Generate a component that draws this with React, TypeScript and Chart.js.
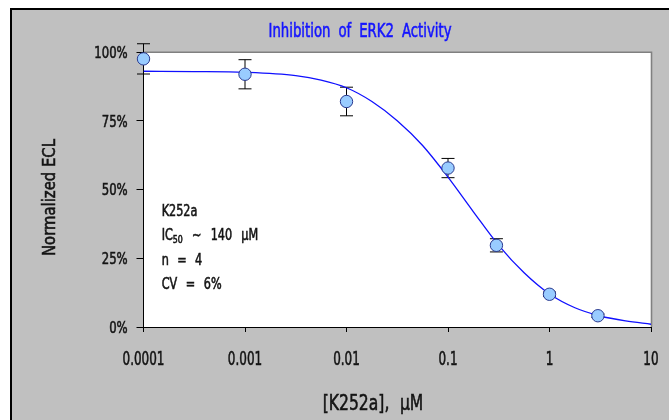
import React, { useEffect, useRef } from "react";
import { Chart, registerables } from "chart.js";

Chart.register(...registerables);

// ---- data ----
const concentrations = [0.0001, 0.001, 0.01, 0.1, 0.3, 1, 3];
const meanActivity = [0.975, 0.919, 0.82, 0.578, 0.297, 0.119, 0.041];
const errorAmount = [0.055, 0.053, 0.052, 0.035, 0.024, 0.008, 0.006];

const fitConcentrations = [0.0001, 0.000316, 0.001, 0.00316, 0.00562, 0.01, 0.0178, 0.0316, 0.0562, 0.1, 0.178, 0.316, 0.562, 1, 1.78, 3.16, 5.62, 10];
const fitActivity = [0.93, 0.929, 0.926, 0.914, 0.898, 0.87, 0.82, 0.75, 0.66, 0.545, 0.419, 0.297, 0.197, 0.12, 0.07, 0.04, 0.022, 0.01];

const xTickValues = [0.0001, 0.001, 0.01, 0.1, 1, 10];
const xTickLabels = ["0.0001", "0.001", "0.01", "0.1", "1", "10"];
const yTickValues = [0, 0.25, 0.5, 0.75, 1];
const yTickLabels = ["0%", "25%", "50%", "75%", "100%"];

const titleText = "Inhibition of ERK2 Activity";
const xAxisTitle = "[K252a], \u03bcM";
const yAxisTitle = "Normalized ECL";
const compoundName = "K252a";
const icLabel = "IC";
const icSubscript = "50";
const icValueText = "~ 140 \u03bcM";
const nText = "n = 4";
const cvText = "CV = 6%";

const FONT = "'DejaVu Sans Condensed', 'DejaVu Sans', sans-serif";
const TEXT = "#141414";
const BOLDEN = 0.55;

type Seg = { t: string; size: number; dy: number };

function segWidth(ctx: any, segs: Seg[]) {
  let w = 0;
  segs.forEach((s) => {
    ctx.font = `${s.size}px ${FONT}`;
    w += ctx.measureText(s.t).width;
  });
  return w;
}

function scaleFor(ctx: any, sample: string, size: number, width: number) {
  ctx.font = `${size}px ${FONT}`;
  return width / ctx.measureText(sample).width;
}

// draws tokens with a common horizontal squeeze; gaps fill the given total width
function drawTokens(ctx: any, tokens: Seg[][], x: number, y: number, sx: number, total: number | null, align: string, color: string) {
  const widths = tokens.map((tk) => segWidth(ctx, tk) * sx);
  const sum = widths.reduce((p, c) => p + c, 0);
  const full = total === null ? sum : total;
  const gap = tokens.length > 1 ? (full - sum) / (tokens.length - 1) : 0;
  let cx = align === "left" ? x : align === "center" ? x - full / 2 : x - full;
  ctx.save();
  ctx.fillStyle = color;
  ctx.strokeStyle = color;
  ctx.lineWidth = BOLDEN;
  ctx.textAlign = "left";
  ctx.textBaseline = "alphabetic";
  tokens.forEach((tk, i) => {
    let off = 0;
    tk.forEach((s) => {
      ctx.font = `${s.size}px ${FONT}`;
      ctx.save();
      ctx.translate(cx + off, y + s.dy);
      ctx.scale(sx, 1);
      ctx.fillText(s.t, 0, 0);
      ctx.strokeText(s.t, 0, 0);
      ctx.restore();
      off += ctx.measureText(s.t).width * sx;
    });
    cx += widths[i] + gap;
  });
  ctx.restore();
}

const words = (text: string, size: number): Seg[][] => text.split(" ").map((w) => [{ t: w, size, dy: 0 }]);
const whole = (text: string, size: number): Seg[][] => [[{ t: text, size, dy: 0 }]];

const decorPlugin = {
  id: "decor",
  beforeDraw(chart: any) {
    const { ctx, chartArea: a } = chart;
    ctx.save();
    ctx.fillStyle = "#ffffff";
    ctx.fillRect(a.left, a.top, a.right - a.left, a.bottom - a.top);
    ctx.strokeStyle = "#808080";
    ctx.lineWidth = 1.6;
    ctx.beginPath();
    ctx.moveTo(a.left, a.top + 0.25);
    ctx.lineTo(a.right + 0.5, a.top + 0.25);
    ctx.lineTo(a.right + 0.5, a.bottom);
    ctx.stroke();
    ctx.restore();
  },
  beforeDatasetsDraw(chart: any) {
    const { ctx } = chart;
    const xs = chart.scales.x;
    const ys = chart.scales.y;
    ctx.save();
    ctx.strokeStyle = "#000000";
    ctx.lineWidth = 1;
    const cap = 6.5;
    concentrations.forEach((c, i) => {
      const px = xs.getPixelForValue(c);
      const top = ys.getPixelForValue(meanActivity[i] + errorAmount[i]);
      const bot = ys.getPixelForValue(meanActivity[i] - errorAmount[i]);
      ctx.beginPath();
      ctx.moveTo(px, top);
      ctx.lineTo(px, bot);
      ctx.moveTo(px - cap, top);
      ctx.lineTo(px + cap, top);
      ctx.moveTo(px - cap, bot);
      ctx.lineTo(px + cap, bot);
      ctx.stroke();
    });
    ctx.restore();
  },
  afterDraw(chart: any) {
    const { ctx, chartArea: a } = chart;
    const xs = chart.scales.x;
    const ys = chart.scales.y;
    ctx.save();

    // x tick labels
    const xSize = 19;
    const xsx = scaleFor(ctx, "0.0001", xSize, 42);
    xTickValues.forEach((v, i) => {
      drawTokens(ctx, whole(xTickLabels[i], xSize), xs.getPixelForValue(v), a.bottom + 37.5, xsx, null, "center", TEXT);
    });

    // y tick labels
    const ySize = 16;
    const ysx = scaleFor(ctx, "100%", ySize, 33.4);
    yTickValues.forEach((v, i) => {
      drawTokens(ctx, whole(yTickLabels[i], ySize), a.left - 15.8, ys.getPixelForValue(v) + 5.8, ysx, null, "right", TEXT);
    });

    // title
    const tSize = 19;
    drawTokens(ctx, words(titleText, tSize), 348, 26.5, scaleFor(ctx, "Inhibition", tSize, 62), 183, "center", "#1414ff");

    // x axis title
    const xtSize = 22;
    drawTokens(ctx, words(xAxisTitle, xtSize), 361, 399.5, scaleFor(ctx, "[K252a],", xtSize, 66.7), 100.6, "center", TEXT);

    // y axis title (rotated)
    const ytSize = 17;
    ctx.save();
    ctx.translate(37, 187.5);
    ctx.rotate(-Math.PI / 2);
    drawTokens(ctx, whole(yAxisTitle, ytSize), 0, 6.1, scaleFor(ctx, yAxisTitle, ytSize, 117), null, "center", TEXT);
    ctx.restore();

    // annotation
    const left = a.left + 18.2;
    const base = a.top + 164;
    const step = 24.3;
    const aSize = 15;
    const asx = scaleFor(ctx, compoundName, aSize, 35.7);
    drawTokens(ctx, words(compoundName, aSize), left, base, asx, null, "left", TEXT);
    const icTokens: Seg[][] = [
      [
        { t: icLabel, size: aSize, dy: 0 },
        { t: icSubscript, size: 10.5, dy: 2.5 },
      ],
      ...words(icValueText, aSize),
    ];
    drawTokens(ctx, icTokens, left, base + step, asx, 96.5, "left", TEXT);
    drawTokens(ctx, words(nText, aSize), left, base + 2 * step, asx, 40.5, "left", TEXT);
    drawTokens(ctx, words(cvText, aSize), left, base + 3 * step, asx, 60, "left", TEXT);

    ctx.restore();
  },
};

export default function App() {
  const ref = useRef<HTMLCanvasElement | null>(null);
  useEffect(() => {
    document.documentElement.style.overflow = "hidden";
    document.body.style.margin = "0";
    const canvas = ref.current;
    if (!canvas) return;
    const chart = new Chart(canvas, {
      type: "scatter",
      data: {
        datasets: [
          {
            label: "fit",
            data: fitConcentrations.map((c, i) => ({ x: c, y: fitActivity[i] })),
            showLine: true,
            borderColor: "#1010ff",
            borderWidth: 1.3,
            pointRadius: 0,
            cubicInterpolationMode: "monotone",
            fill: false,
            order: 2,
          } as any,
          {
            label: "data",
            data: concentrations.map((c, i) => ({ x: c, y: meanActivity[i] })),
            showLine: false,
            pointRadius: 6.2,
            pointBackgroundColor: "#99ccff",
            pointBorderColor: "#2a3a90",
            pointBorderWidth: 1,
            clip: false,
            order: 1,
          } as any,
        ],
      },
      options: {
        responsive: false,
        animation: false,
        events: [],
        layout: { padding: { top: 42, right: 18, left: 0, bottom: 0 } },
        plugins: {
          legend: { display: false },
          title: { display: false },
          tooltip: { enabled: false },
        },
        scales: {
          x: {
            type: "logarithmic",
            min: 0.0001,
            max: 10,
            afterBuildTicks: (scale: any) => {
              scale.ticks = xTickValues.map((v) => ({ value: v }));
            },
            afterFit: (scale: any) => {
              scale.height = 93;
              scale.paddingLeft = 0;
              scale.paddingRight = 0;
            },
            ticks: { display: false, autoSkip: false },
            grid: { drawOnChartArea: false, drawTicks: true, tickLength: 5, color: "#000000", lineWidth: 1 },
            border: { display: true, color: "#000000", width: 1 },
          } as any,
          y: {
            type: "linear",
            min: 0,
            max: 1,
            afterBuildTicks: (scale: any) => {
              scale.ticks = yTickValues.map((v) => ({ value: v }));
            },
            afterFit: (scale: any) => {
              scale.width = 131.5;
              scale.paddingTop = 0;
              scale.paddingBottom = 0;
            },
            ticks: { display: false },
            grid: { drawOnChartArea: false, drawTicks: true, tickLength: 7, color: "#000000", lineWidth: 1 },
            border: { display: true, color: "#000000", width: 1 },
          } as any,
        },
      },
      plugins: [decorPlugin],
    });
    return () => chart.destroy();
  }, []);

  return (
    <div style={{ width: 669, height: 420, paddingTop: 8, paddingLeft: 10, boxSizing: "border-box", background: "#ffffff", overflow: "hidden" }}>
      <div
        style={{
          width: 657,
          height: 410,
          borderTop: "2px solid #000",
          borderLeft: "2px solid #000",
          background: "#c0c0c0",
          overflow: "hidden",
        }}
      >
        <canvas ref={ref} width={657} height={410} style={{ display: "block", width: 657, height: 410 }} />
      </div>
    </div>
  );
}
